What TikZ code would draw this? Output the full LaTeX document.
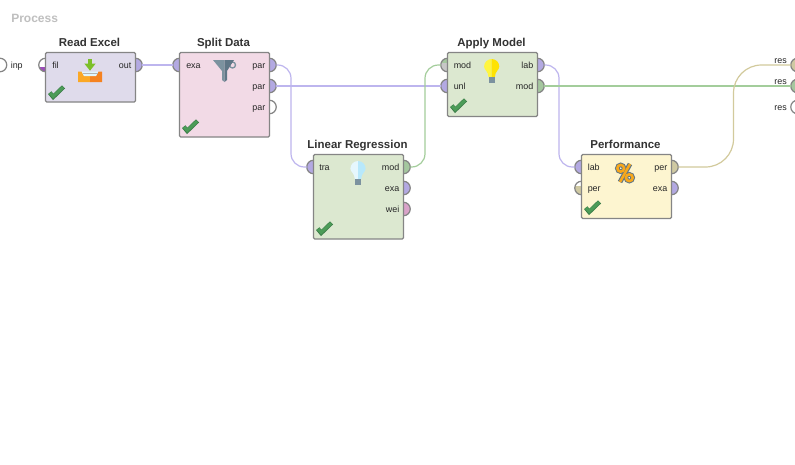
\documentclass[tikz,border=0pt]{standalone}
\usepackage{fontspec}
\setmainfont{Liberation Sans}
\definecolor{exaP}{HTML}{B3A9E2}
\definecolor{modP}{HTML}{A5C79F}
\definecolor{perP}{HTML}{CFC9A2}
\definecolor{weiP}{HTML}{D9A3C9}
\definecolor{filP}{HTML}{9B4DB8}
\definecolor{exaL}{HTML}{BDB5EE}
\definecolor{modL}{HTML}{A3CD9B}
\definecolor{perL}{HTML}{D2CA9C}
\definecolor{edgeC}{HTML}{858585}
\definecolor{okC}{HTML}{4C9C58}
\definecolor{okD}{HTML}{3B7C48}
\definecolor{steel}{HTML}{7C929F}
\definecolor{steelD}{HTML}{5F7686}
\definecolor{reBox}{HTML}{DFDBEB}
\definecolor{sdBox}{HTML}{F2DAE6}
\definecolor{grBox}{HTML}{DCE8D0}
\definecolor{pfBox}{HTML}{FDF5D0}
\definecolor{icGreen}{HTML}{7CBF2A}
\definecolor{icOrA}{HTML}{FBA825}
\definecolor{icOrB}{HTML}{F58220}
\definecolor{icOr}{HTML}{F8A81C}
\tikzset{
  portn/.style={circle,draw=edgeC,line width=0.9pt,fill=white,minimum size=13.5*0.75pt,inner sep=0pt,outer sep=0pt},
  exap/.style={portn,fill=exaP},
  modp/.style={portn,fill=modP},
  perp/.style={portn,fill=perP},
  weip/.style={portn,fill=weiP},
  opbox/.style={draw=edgeC,line width=0.9pt,rounded corners=1pt,anchor=north west,inner sep=0pt,outer sep=0pt,minimum width=90*0.75pt},
  optitle/.style={font=\bfseries\fontsize{8.6pt}{10pt}\selectfont,text=black!80,inner sep=0pt,anchor=base},
  portlab/.style={font=\fontsize{6.7pt}{8pt}\selectfont,text=black!85,inner sep=0pt},
  lefts/.style={portlab,anchor=base west},
  rights/.style={portlab,anchor=base east},
  exaw/.style={draw=exaL,line width=0.9pt,rounded corners=10pt},
  modw/.style={draw=modL,line width=0.9pt,rounded corners=10pt},
  perw/.style={draw=perL,line width=0.9pt,rounded corners=21pt},
  okmark/.style={line width=2.3pt,okC,line join=miter,line cap=butt},
}
\newcommand{\okat}[2]{%
  \draw[line width=3.3pt,okD] (#1+2.2,#2+6.2) -- (#1+5.7,#2+10.4) -- (#1+16,#2+0.4);
  \draw[okmark] (#1+2.6,#2+6.4) -- (#1+5.7,#2+10) -- (#1+15.6,#2+0.7);
}
\newcommand{\bulbat}[4]{%
  \fill[#3] (#1,#2) arc[start angle=270,end angle=180,radius=7.6] .. controls (#1-7.6,#2+11) and (#1-3.4,#2+12) .. (#1-3.2,#2+18) -- (#1,#2+18) -- cycle;
  \fill[#4] (#1,#2) arc[start angle=270,end angle=360,radius=7.6] .. controls (#1+7.6,#2+11) and (#1+3.4,#2+12) .. (#1+3.2,#2+18) -- (#1,#2+18) -- cycle;
  \fill[steel] (#1-3.1,#2+18) rectangle (#1+3.1,#2+24);
}
\begin{document}
\begin{tikzpicture}[x=0.75pt,y=-0.75pt]
\useasboundingbox (0,0) rectangle (795,464);
\fill[white] (0,0) rectangle (795,464);

\node[anchor=base west,font=\bfseries\fontsize{9pt}{10pt}\selectfont,text=black!25,inner sep=0pt] (proc) at (11,22) {Process};

% ports
\node[portn] (inp) at (0,65) {};
\node[portn,path picture={\fill[filP] ([yshift=3.4pt]path picture bounding box.south west) rectangle (path picture bounding box.south east);}] (fil) at (45.5,65) {};
\node[exap] (out) at (135.5,65) {};
\node[exap] (sdexa) at (179.5,65) {};
\node[exap] (par1) at (269.5,65) {};
\node[exap] (par2) at (269.5,86) {};
\node[portn] (par3) at (269.5,107) {};
\node[exap] (tra) at (313.5,167) {};
\node[modp] (lrmod) at (403.5,167) {};
\node[exap] (lrexa) at (403.5,188) {};
\node[weip] (lrwei) at (403.5,209) {};
\node[portn,fill=black!22,path picture={\fill[modP] (path picture bounding box.north west) rectangle ([yshift=-3.4pt]path picture bounding box.north east);}] (ammod) at (447.5,65) {};
\node[exap] (unl) at (447.5,86) {};
\node[exap] (lab) at (537.5,65) {};
\node[modp] (amout) at (537.5,86) {};
\node[exap] (pflab) at (581.5,167) {};
\node[portn,path picture={\fill[perP] ([yshift=-3.4pt]path picture bounding box.north west) rectangle (path picture bounding box.south east);}] (pfper) at (581.5,188) {};
\node[perp] (pfout) at (671.5,167) {};
\node[exap] (pfexa) at (671.5,188) {};
\node[perp] (res1) at (797.5,65) {};
\node[modp] (res2) at (797.5,86) {};
\node[portn] (res3) at (797.5,107) {};

% connector bend points
\coordinate (b1) at (291,167);
\coordinate (b2) at (425,65);
\coordinate (b3) at (559,167);
\coordinate (b4) at (733.5,65);

% connectors
\draw[exaw,rounded corners=0pt] (out.east) -- (sdexa.west);
\draw[exaw] (par1.east) -| (b1) -- (tra.west);
\draw[exaw,rounded corners=0pt] (par2.east) -- (unl.west);
\draw[modw] (lrmod.east) -| (b2) -- (ammod.west);
\draw[exaw] (lab.east) -| (b3) -- (pflab.west);
\draw[modw,rounded corners=0pt] (amout.east) -- (res2.west);
\draw[perw] (pfout.east) -| (b4) -- (res1.west);

% operators
\node[opbox,minimum height=49.5*0.75pt,fill=reBox] (re) at (45.5,52.5) {};
\node[opbox,minimum height=84.5*0.75pt,fill=sdBox] (sd) at (179.5,52.5) {};
\node[opbox,minimum height=84.5*0.75pt,fill=grBox] (lr) at (313.5,154.5) {};
\node[opbox,minimum height=64*0.75pt,fill=grBox] (am) at (447.5,52.5) {};
\node[opbox,minimum height=64*0.75pt,fill=pfBox] (pf) at (581.5,154.5) {};

% titles
\node[optitle] (t1) at (89.5,46) {Read Excel};
\node[optitle] (t2) at (223.5,46) {Split Data};
\node[optitle] (t3) at (357.5,148) {Linear Regression};
\node[optitle] (t4) at (491.5,46) {Apply Model};
\node[optitle] (t5) at (625.5,148) {Performance};

% port labels
\node[lefts] (l1) at (10.5,68.5) {inp};
\node[lefts] (l2) at (52,68.5) {fil};
\node[rights] (l3) at (131.5,68.5) {out};
\node[lefts] (l4) at (186,68.5) {exa};
\node[rights] (l5) at (265.5,68.5) {par};
\node[rights] (l6) at (265.5,89.5) {par};
\node[rights] (l7) at (265.5,110.5) {par};
\node[lefts] (l8) at (319,170.5) {tra};
\node[rights] (l9) at (399.5,170.5) {mod};
\node[rights] (l10) at (399.5,191.5) {exa};
\node[rights] (l11) at (399.5,212.5) {wei};
\node[lefts] (l12) at (453.5,68.5) {mod};
\node[lefts] (l13) at (453.5,89.5) {unl};
\node[rights] (l14) at (533.5,68.5) {lab};
\node[rights] (l15) at (533.5,89.5) {mod};
\node[lefts] (l16) at (587.5,170.5) {lab};
\node[lefts] (l17) at (587.5,191.5) {per};
\node[rights] (l18) at (667.5,170.5) {per};
\node[rights] (l19) at (667.5,191.5) {exa};
\node[rights] (l20) at (787,63.5) {res};
\node[rights] (l21) at (787,84.5) {res};
\node[rights] (l22) at (787,110.5) {res};

% check marks
\okat{47.5}{86.5}
\okat{181.5}{120.5}
\okat{315.5}{222.5}
\okat{449.5}{99.5}
\okat{583.5}{201.5}

% Read Excel icon
\fill[icGreen] (87.7,59) rectangle (92.3,64);
\fill[icGreen] (84.3,63.5) -- (95.7,63.5) -- (90,70.7) -- cycle;
\fill[icOrA] (78,71.7) -- (81.7,71.7) -- (84,76) -- (90,76) -- (90,82) -- (78,82) -- cycle;
\fill[icOrB] (90,76) -- (96,76) -- (98.3,71.7) -- (102,71.7) -- (102,82) -- (90,82) -- cycle;
\fill[cyan!12!white] (81.7,71.7) -- (98.3,71.7) -- (96,76) -- (84,76) -- cycle;
\fill[black!30] (82.5,72.6) rectangle (97.5,73.4);

% funnel icon
\draw[steel,line width=1pt] (232.5,65) circle[radius=3];
\fill[steel] (213,60) -- (224.5,60) -- (224.5,82) -- (222,80) -- (222,71) -- cycle;
\fill[steelD] (224.5,60) -- (234,60) -- (227,71) -- (227,80) -- (224.5,82) -- cycle;

% bulbs
\bulbat{358}{161}{cyan!10!white}{cyan!28!white}
\bulbat{491.7}{59}{yellow!75!white}{yellow!85!orange}

% percent icon
\draw[steelD,line width=3.4pt] (620.7,168.3) circle[radius=3.4];
\draw[steelD,line width=3.4pt] (629.3,177.7) circle[radius=3.4];
\draw[steelD,line width=3.6pt] (630,164) -- (620,182);
\draw[icOr,line width=1.9pt] (620.7,168.3) circle[radius=3.4];
\draw[icOr,line width=1.9pt] (629.3,177.7) circle[radius=3.4];
\draw[icOr,line width=1.9pt] (630,164) -- (620,182);
\end{tikzpicture}
\end{document}
